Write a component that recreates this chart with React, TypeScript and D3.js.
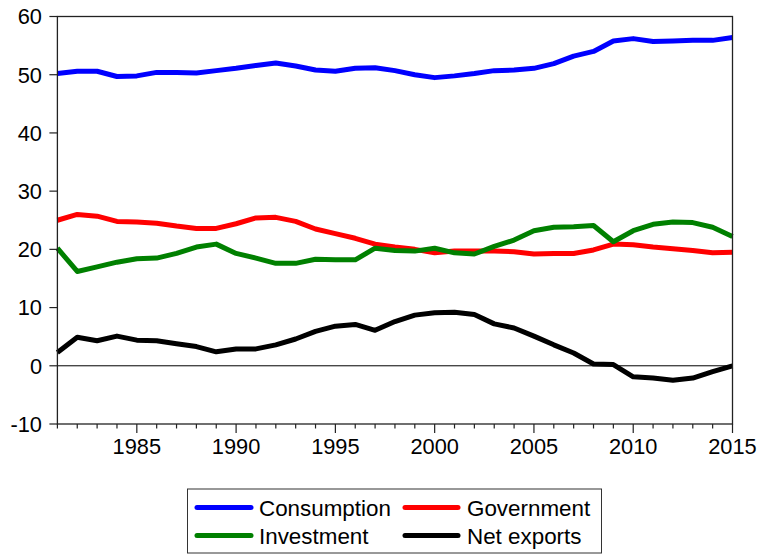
import React from "react";
import * as d3 from "d3";

const years = d3.range(1981, 2016);
const consumption = [50.2, 50.6, 50.6, 49.7, 49.8, 50.4, 50.4, 50.3, 50.7, 51.1, 51.6, 52.0, 51.5, 50.8, 50.6, 51.1, 51.2, 50.7, 50.0, 49.5, 49.8, 50.2, 50.7, 50.8, 51.1, 51.9, 53.2, 54.0, 55.8, 56.2, 55.7, 55.8, 55.9, 55.9, 56.4];
const government = [25.0, 26.0, 25.7, 24.8, 24.7, 24.5, 24.0, 23.6, 23.6, 24.4, 25.4, 25.5, 24.8, 23.5, 22.7, 21.9, 20.9, 20.4, 20.0, 19.4, 19.7, 19.7, 19.7, 19.6, 19.2, 19.3, 19.3, 19.9, 20.9, 20.8, 20.4, 20.1, 19.8, 19.4, 19.5];
const investment = [20.2, 16.2, 17.0, 17.8, 18.4, 18.5, 19.3, 20.4, 20.9, 19.3, 18.5, 17.6, 17.6, 18.3, 18.2, 18.2, 20.2, 19.8, 19.7, 20.2, 19.4, 19.2, 20.5, 21.6, 23.2, 23.8, 23.9, 24.1, 21.3, 23.2, 24.3, 24.7, 24.6, 23.8, 22.2];
const netExports = [2.3, 4.9, 4.3, 5.1, 4.4, 4.3, 3.8, 3.3, 2.4, 2.9, 2.9, 3.6, 4.6, 5.9, 6.8, 7.1, 6.1, 7.6, 8.7, 9.1, 9.2, 8.8, 7.2, 6.5, 5.1, 3.6, 2.2, 0.3, 0.2, -1.9, -2.1, -2.5, -2.1, -1.0, 0.0];

const seriesNames = ["Consumption", "Government", "Investment", "Net exports"];
const seriesColors = ["#0000ff", "#ff0000", "#008000", "#000000"];
const seriesValues = [consumption, government, investment, netExports];
const yTicks = [-10, 0, 10, 20, 30, 40, 50, 60];
const xLabelTicks = [1985, 1990, 1995, 2000, 2005, 2010, 2015];

const W = 757;
const H = 556;
const L = 57.4;
const R = 732.5;
const T = 16.5;
const B = 424;

export default function App() {
  const x = d3.scaleLinear().domain([1981, 2015]).range([L, R]);
  const y = d3.scaleLinear().domain([-10, 60]).range([B, T]);
  const line = d3
    .line<number>()
    .x((_, i) => x(years[i]))
    .y((d) => y(d));
  const font = "'Liberation Sans', Arial, sans-serif";

  const legendCols = [
    { lineX0: 197, lineX1: 251, textX: 259 },
    { lineX0: 405, lineX1: 458, textX: 467 },
  ];
  const legendRows = [507.5, 535.5];

  return (
    <svg
      width={W}
      height={H}
      style={{ position: "absolute", left: 0, top: 0, background: "#fff" }}
      fontFamily={font}
    >
      <rect x={0} y={0} width={W} height={H} fill="#fff" />
      <line x1={L} x2={R} y1={y(0)} y2={y(0)} stroke="#000" strokeWidth={1} />
      {seriesValues.map((vals, i) => (
        <path
          key={seriesNames[i]}
          d={line(vals) || ""}
          fill="none"
          stroke={seriesColors[i]}
          strokeWidth={5}
          strokeLinejoin="round"
        />
      ))}
      <rect x={L} y={T} width={R - L} height={B - T} fill="none" stroke="#222" strokeWidth={1.3} />
      {yTicks.map((t) => (
        <g key={t}>
          <line x1={L - 8} x2={L} y1={y(t)} y2={y(t)} stroke="#222" strokeWidth={1.2} />
          <text x={42} y={y(t)} dy="0.36em" textAnchor="end" fontSize={21.8} fill="#000">
            {t}
          </text>
        </g>
      ))}
      {years.map((yr) => {
        const major = yr % 5 === 0;
        return (
          <line
            key={yr}
            x1={x(yr)}
            x2={x(yr)}
            y1={B}
            y2={B + (major ? 9 : 4.5)}
            stroke="#222"
            strokeWidth={1.2}
          />
        );
      })}
      {xLabelTicks.map((yr) => (
        <text key={yr} x={x(yr)} y={454} textAnchor="middle" fontSize={21.8} fill="#000">
          {yr}
        </text>
      ))}
      <rect x={187.5} y={489} width={414} height={64} fill="#fff" stroke="#333" strokeWidth={1} />
      {seriesNames.map((name, i) => {
        const col = legendCols[i % 2];
        const rowY = legendRows[Math.floor(i / 2)];
        return (
          <g key={name}>
            <line
              x1={col.lineX0}
              x2={col.lineX1}
              y1={rowY}
              y2={rowY}
              stroke={seriesColors[i]}
              strokeWidth={5}
              strokeLinecap="round"
            />
            <text x={col.textX} y={rowY} dy="0.36em" fontSize={22.4} fill="#000">
              {name}
            </text>
          </g>
        );
      })}
    </svg>
  );
}
